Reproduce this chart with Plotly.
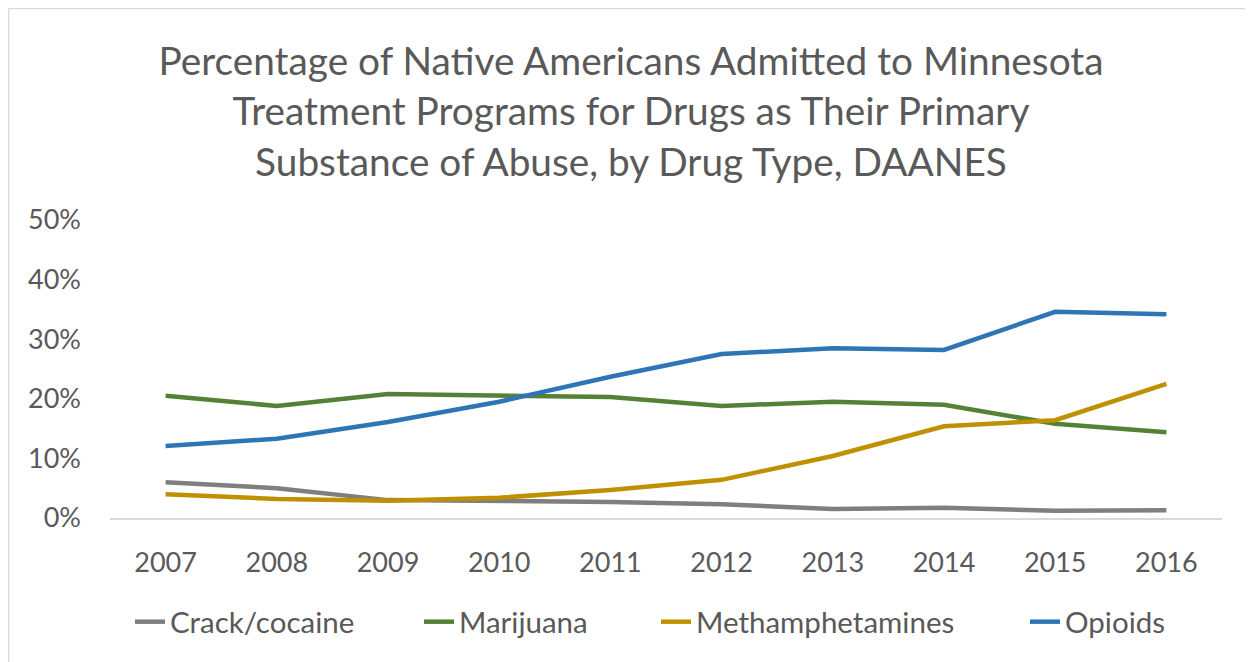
import plotly.graph_objects as go

years = ["2007", "2008", "2009", "2010", "2011", "2012", "2013", "2014", "2015", "2016"]
crack = [0.060, 0.050, 0.030, 0.029, 0.027, 0.023, 0.015, 0.017, 0.012, 0.013]
marijuana = [0.205, 0.188, 0.208, 0.205, 0.203, 0.188, 0.195, 0.190, 0.158, 0.144]
meth = [0.040, 0.032, 0.029, 0.034, 0.047, 0.064, 0.104, 0.154, 0.164, 0.225]
opioids = [0.121, 0.133, 0.161, 0.195, 0.237, 0.275, 0.285, 0.282, 0.346, 0.342]

series = [
    ("Crack/cocaine", crack, "#7f7f7f"),
    ("Marijuana", marijuana, "#548235"),
    ("Methamphetamines", meth, "#bf9000"),
    ("Opioids", opioids, "#2e75b6"),
]
# window x where each legend entry's text begins
legend_text_x = [172, 461, 698, 1067]

FONT = "Lato"
TXT = "#595959"

# page body has an 8px margin, so the figure starts at (8, 8) in the window
W, H = 1245, 654
L, R, T, B = 102, 31, 212, 144
pw, ph = W - L - R, H - T - B

fig = go.Figure()
legend_layouts = {}
for i, (name, vals, col) in enumerate(series):
    lname = "legend" if i == 0 else f"legend{i + 1}"
    fig.add_trace(go.Scatter(x=years, y=vals, name=name, mode="lines",
                             line=dict(color=col, width=4.5), legend=lname))
    legend_layouts[lname] = dict(
        orientation="h", xref="container", yref="container",
        x=(legend_text_x[i] - 8 - 42) / W, xanchor="left",
        y=(H - (622 - 8)) / H, yanchor="middle",
        font=dict(size=29.5, color=TXT, family=FONT), itemwidth=30,
        bgcolor="rgba(0,0,0,0)",
    )

fig.update_layout(
    width=W, height=H,
    margin=dict(l=L, r=R, t=T, b=B),
    paper_bgcolor="white", plot_bgcolor="white",
    font=dict(family=FONT, color=TXT),
    title=dict(
        text="Percentage of Native Americans Admitted to Minnesota<br>Treatment Programs for Drugs as Their Primary<br>Substance of Abuse, by Drug Type, DAANES",
        x=(631 - 8) / W, xanchor="center", xref="container",
        y=1 - 67 / H, yanchor="top", yref="container",
        font=dict(family=FONT, size=38.8, color=TXT),
    ),
    xaxis=dict(
        type="category", range=[-0.5, 9.5], showgrid=False, showline=True,
        linecolor="#d9d9d9", linewidth=1.5,
        ticks="", tickfont=dict(size=27, color=TXT), ticklabelstandoff=20,
        zeroline=False,
    ),
    yaxis=dict(
        range=[0, 0.5], dtick=0.1, tickformat=".0%", showgrid=False, zeroline=False,
        showline=False, ticks="", tickfont=dict(size=27, color=TXT), ticklabelstandoff=28,
    ),
    showlegend=True,
    **legend_layouts,
)

# outer chart border (top and left edges visible)
x_left = (0.5 - L) / pw
y_top = (H - B - 0.5) / ph
fig.add_shape(type="line", xref="paper", yref="paper",
              x0=x_left, x1=(W - L) / pw, y0=y_top, y1=y_top,
              line=dict(color="#d9d9d9", width=1.5))
fig.add_shape(type="line", xref="paper", yref="paper",
              x0=x_left, x1=x_left, y0=y_top, y1=-B / ph,
              line=dict(color="#d9d9d9", width=1.5))

fig.write_html("out.html")
